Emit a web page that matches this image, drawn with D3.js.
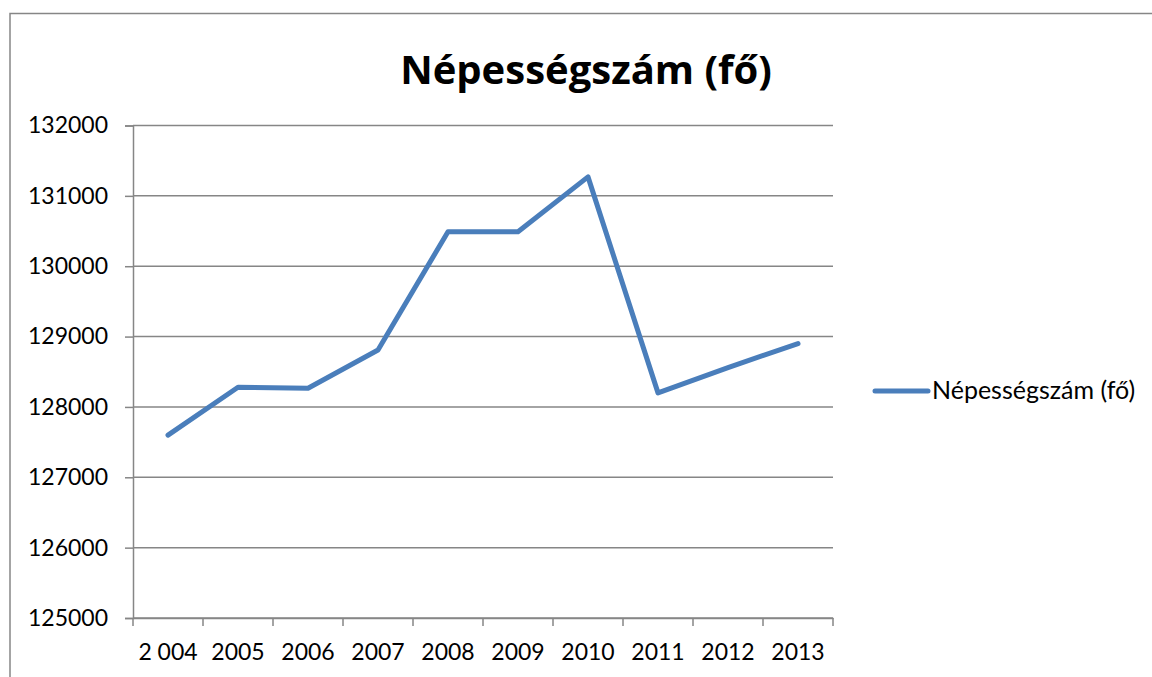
<!DOCTYPE html>
<html>
<head>
<meta charset="utf-8">
<script src="https://cdn.jsdelivr.net/npm/d3@7"></script>
<style>
  html, body { margin: 0; padding: 0; background: #fff; }
  svg { display: block; }
  text { font-family: Lato, "Open Sans", sans-serif; fill: #000; }
</style>
</head>
<body>
<svg id="chart" width="1152" height="677"></svg>
<script>
const categories = ["2 004", "2005", "2006", "2007", "2008", "2009", "2010", "2011", "2012", "2013"];
const values = [127600, 128280, 128265, 128810, 130490, 130490, 131270, 128200, 128560, 128900];
const yTicks = [125000, 126000, 127000, 128000, 129000, 130000, 131000, 132000];
const seriesName = "Népességszám (fő)";
const title = "Népességszám (fő)";

const svg = d3.select("#chart");
const W = 1152, H = 677;
const plot = { left: 133, right: 833, top: 125.5, bottom: 618 };
const gray = "#868686";
const blue = "#4a7ebb";

// outer chart border
svg.append("rect")
  .attr("x", 10).attr("y", 13.5)
  .attr("width", W + 20).attr("height", H + 20)
  .attr("fill", "none").attr("stroke", gray).attr("stroke-width", 1.5);

const x = d3.scaleBand().domain(categories).range([plot.left, plot.right]).padding(0);
const y = d3.scaleLinear().domain([125000, 132000]).range([plot.bottom, plot.top]);

// gridlines
svg.append("g")
  .selectAll("line")
  .data(yTicks)
  .join("line")
  .attr("x1", plot.left).attr("x2", plot.right)
  .attr("y1", d => y(d)).attr("y2", d => y(d))
  .attr("stroke", gray).attr("stroke-width", 1.5);

// y axis
const yAxis = svg.append("g")
  .attr("transform", `translate(${plot.left},0)`)
  .call(d3.axisLeft(y).tickValues(yTicks).tickFormat(d3.format("d")).tickSize(8).tickPadding(17));
yAxis.select(".domain").attr("stroke", gray).attr("stroke-width", 1.5);
yAxis.selectAll(".tick line").attr("stroke", gray).attr("stroke-width", 1.5);
yAxis.selectAll(".tick text")
  .style("font-family", "Lato, 'Open Sans', sans-serif")
  .style("font-size", "23px").attr("fill", "#000");

// x axis
const xAxis = svg.append("g")
  .attr("transform", `translate(0,${plot.bottom})`)
  .call(d3.axisBottom(x).tickSize(0).tickPadding(26));
xAxis.select(".domain").attr("stroke", gray).attr("stroke-width", 1.5);
xAxis.selectAll(".tick text")
  .style("font-family", "Lato, 'Open Sans', sans-serif")
  .style("font-size", "23px").attr("fill", "#000");
// boundary tick marks between categories
const bounds = categories.map(c => x(c)).concat([x(categories[categories.length - 1]) + x.bandwidth()]);
svg.append("g")
  .selectAll("line")
  .data(bounds)
  .join("line")
  .attr("x1", d => d).attr("x2", d => d)
  .attr("y1", plot.bottom).attr("y2", plot.bottom + 8)
  .attr("stroke", gray).attr("stroke-width", 1.5);

// line
const line = d3.line()
  .x((d, i) => x(categories[i]) + x.bandwidth() / 2)
  .y(d => y(d));
svg.append("path")
  .datum(values)
  .attr("d", line)
  .attr("fill", "none")
  .attr("stroke", blue)
  .attr("stroke-width", 5)
  .attr("stroke-linejoin", "round")
  .attr("stroke-linecap", "round");

// title
svg.append("text")
  .attr("x", 586).attr("y", 84)
  .attr("text-anchor", "middle")
  .style("font-family", "'Open Sans', Lato, sans-serif")
  .style("font-size", "40px").style("font-weight", "bold")
  .text(title);

// legend
svg.append("line")
  .attr("x1", 875).attr("x2", 928)
  .attr("y1", 391).attr("y2", 391)
  .attr("stroke", blue).attr("stroke-width", 5).attr("stroke-linecap", "round");
svg.append("text")
  .attr("x", 932).attr("y", 399)
  .style("font-size", "25px")
  .text(seriesName);
</script>
</body>
</html>
